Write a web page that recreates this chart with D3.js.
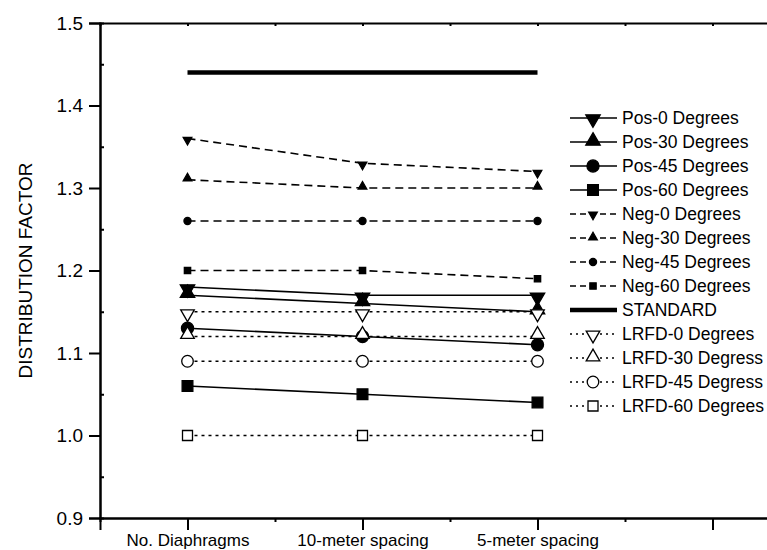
<!DOCTYPE html>
<html lang="en">
<head>
<meta charset="utf-8">
<title>Distribution factor</title>
<script src="https://cdn.jsdelivr.net/npm/d3@7"></script>
<style>
    body { margin: 0; background: #fff; }
    text { font-family: "Liberation Sans", Arial, sans-serif; fill: #000; }
</style>
</head>
<body>
<script>
// categories on the x axis
var categories = ["No. Diaphragms", "10-meter spacing", "5-meter spacing"];

// series values (one array per group, one row per angle)
var posNames = ["Pos-0 Degrees", "Pos-30 Degrees", "Pos-45 Degrees", "Pos-60 Degrees"];
var posValues = [
    [1.18, 1.17, 1.17],
    [1.17, 1.16, 1.15],
    [1.13, 1.12, 1.11],
    [1.06, 1.05, 1.04]
];
var negNames = ["Neg-0 Degrees", "Neg-30 Degrees", "Neg-45 Degrees", "Neg-60 Degrees"];
var negValues = [
    [1.36, 1.33, 1.32],
    [1.31, 1.30, 1.30],
    [1.26, 1.26, 1.26],
    [1.20, 1.20, 1.19]
];
var standardName = "STANDARD";
var standardValues = [1.44, 1.44, 1.44];
var lrfdNames = ["LRFD-0 Degrees", "LRFD-30 Degress", "LRFD-45 Degress", "LRFD-60 Degrees"];
var lrfdValues = [
    [1.15, 1.15, 1.15],
    [1.12, 1.12, 1.12],
    [1.09, 1.09, 1.09],
    [1.00, 1.00, 1.00]
];

// axis ticks
var yTicks = [0.9, 1.0, 1.1, 1.2, 1.3, 1.4, 1.5];
var yMinorTicks = [0.95, 1.05, 1.15, 1.25, 1.35, 1.45];
var xTicks = [1, 2, 3, 4];
var xMinorTicks = [1.5, 2.5, 3.5];

var w = 767, h = 550;
var plotLeft = 100, plotTop = 23, plotBottom = 518;

var x = d3.scaleLinear().domain([0.5, 4.5]).range([plotLeft, plotLeft + 700]);
var y = d3.scaleLinear().domain([0.9, 1.5]).range([plotBottom, plotTop]);

var svg = d3.select("body").append("svg")
    .attr("width", w).attr("height", h);

// marker shapes per angle: down triangle, up triangle, circle, square
var shapes = [
    { type: d3.symbolTriangle, rot: 180 },
    { type: d3.symbolTriangle, rot: 0 },
    { type: d3.symbolCircle, rot: 0 },
    { type: d3.symbolSquare, rot: 0 }
];
// symbol areas for big (Pos), small (Neg), open (LRFD) markers
var bigSizes = [90, 90, 115, 115];
var smallSizes = [32, 32, 40, 40];
var openSizes = [80, 80, 105, 100];

// build the series list used for both plot and legend
var series = [];
posNames.forEach(function (n, i) {
    series.push({ name: n, values: posValues[i], shape: shapes[i], size: bigSizes[i],
        dash: null, legendDash: null, width: 1.6, fill: "#000", offset: i === 0 ? 2 : (i === 1 ? -2 : 0) });
});
negNames.forEach(function (n, i) {
    series.push({ name: n, values: negValues[i], shape: shapes[i], size: smallSizes[i],
        dash: "8,5", legendDash: "6,4", width: 1.6, fill: "#000", offset: i === 0 ? 1.5 : (i === 1 ? -1.5 : 0) });
});
series.push({ name: standardName, values: standardValues, shape: null, dash: null, legendDash: null, width: 4.5 });
lrfdNames.forEach(function (n, i) {
    series.push({ name: n, values: lrfdValues[i], shape: shapes[i], size: openSizes[i],
        dash: "3,4", legendDash: "2,4", width: 1.3, fill: "#fff", offset: i === 0 ? 2 : (i === 1 ? -2 : 0) });
});

// axes
var axisStyle = function (g) {
    g.select(".domain").attr("stroke", "#000").attr("stroke-width", 2);
    g.selectAll(".tick line").attr("stroke", "#000").attr("stroke-width", 2);
    g.selectAll(".tick text").style("font-size", "19px").attr("fill", "#000");
};

svg.append("g").attr("transform", "translate(" + plotLeft + ",0)")
    .call(d3.axisLeft(y).tickValues(yMinorTicks).tickSize(-4).tickFormat(""))
    .call(axisStyle);
svg.append("g").attr("transform", "translate(" + plotLeft + ",0)")
    .call(d3.axisLeft(y).tickValues(yTicks).tickSize(11).tickPadding(6).tickFormat(d3.format(".1f")))
    .call(axisStyle);

svg.append("g").attr("transform", "translate(0," + plotBottom + ")")
    .call(d3.axisBottom(x).tickValues(xMinorTicks).tickSize(4).tickFormat(""))
    .call(axisStyle);
svg.append("g").attr("transform", "translate(0," + plotBottom + ")")
    .call(d3.axisBottom(x).tickValues(xTicks).tickSize(12).tickPadding(4)
        .tickFormat(function (d) { return categories[d - 1] || ""; }))
    .call(axisStyle)
    .selectAll(".tick text").style("font-size", "17px");

svg.append("g").attr("transform", "translate(0," + plotTop + ")")
    .call(d3.axisTop(x).tickValues(xTicks.concat(xMinorTicks)).tickSize(-3).tickFormat(""))
    .call(axisStyle);

// y axis title
svg.append("text")
    .attr("transform", "rotate(-90)")
    .attr("x", -(plotTop + plotBottom) / 2)
    .attr("y", 32)
    .attr("text-anchor", "middle")
    .style("font-size", "19px")
    .text("DISTRIBUTION FACTOR");

// lines
var line = d3.line()
    .x(function (d, i) { return x(i + 1); })
    .y(function (d) { return y(d); });

var plot = svg.append("g");

series.forEach(function (s) {
    plot.append("path")
        .datum(s.values)
        .attr("d", line)
        .attr("fill", "none")
        .attr("stroke", "#000")
        .attr("stroke-width", s.width)
        .attr("stroke-dasharray", s.dash);

    if (!s.shape) return;
    plot.selectAll(null)
        .data(s.values)
        .enter()
        .append("path")
        .attr("d", d3.symbol().type(s.shape.type).size(s.size))
        .attr("transform", function (d, i) {
            return "translate(" + x(i + 1) + "," + (y(d) + s.offset) + ") rotate(" + s.shape.rot + ")";
        })
        .attr("fill", s.fill)
        .attr("stroke", "#000")
        .attr("stroke-width", 1.3);
});

// legend
var legend = svg.append("g").attr("transform", "translate(570,118)");
var rowH = 24;

series.forEach(function (s, i) {
    var row = legend.append("g").attr("transform", "translate(0," + (i * rowH) + ")");
    row.append("line")
        .attr("x1", 0).attr("x2", 47)
        .attr("y1", 0).attr("y2", 0)
        .attr("stroke", "#000")
        .attr("stroke-width", s.width)
        .attr("stroke-dasharray", s.legendDash);
    if (s.shape) {
        row.append("path")
            .attr("d", d3.symbol().type(s.shape.type).size(s.size))
            .attr("transform", "translate(23," + (s.offset / 2) + ") rotate(" + s.shape.rot + ")")
            .attr("fill", s.fill)
            .attr("stroke", "#000")
            .attr("stroke-width", 1.3);
    }
    row.append("text")
        .attr("x", 52)
        .attr("y", 0)
        .attr("dy", "0.35em")
        .style("font-size", "17.5px")
        .text(s.name);
});
</script>
</body>
</html>
